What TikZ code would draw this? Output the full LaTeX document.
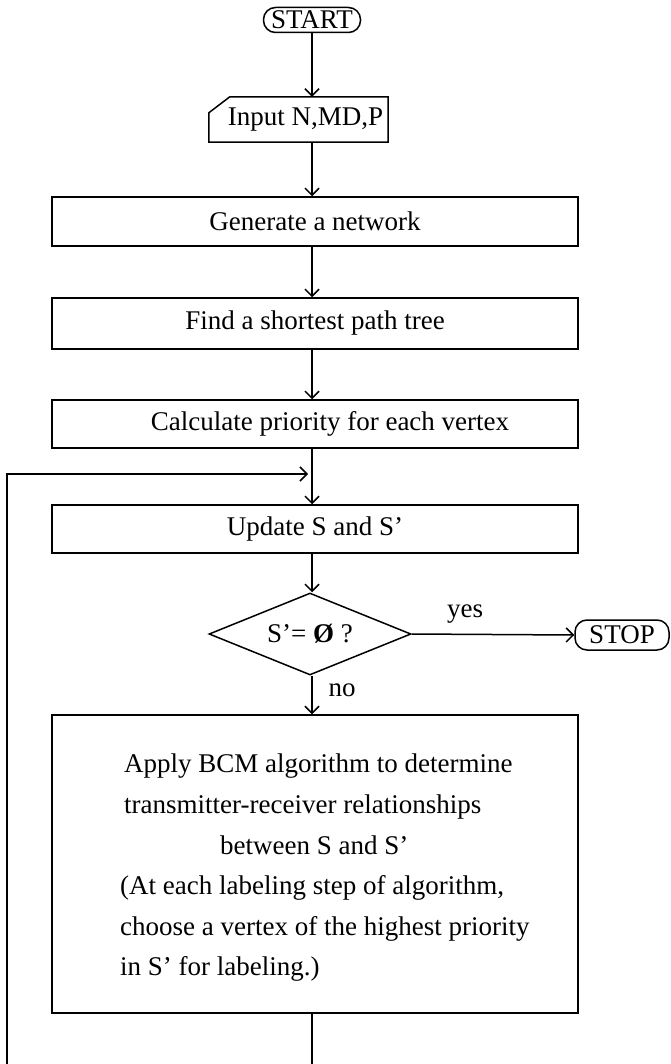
\documentclass[tikz,border=0pt]{standalone}
\usepackage{fontspec}
\setmainfont{Liberation Serif}
\usetikzlibrary{arrows.meta,shapes.geometric}
\begin{document}
\begin{tikzpicture}[x=1pt,y=-1pt,
  every node/.style={font=\fontsize{27}{40.6}\selectfont},
  line/.style={line width=1.5pt},
  arr/.style={line width=1.5pt, -{Straight Barb[length=7pt,width=14pt,line width=1.5pt]}},
  box/.style={draw, line width=1.5pt, minimum width=526pt, inner sep=0pt},
  term/.style={draw, line width=1.5pt, rounded corners=12pt, inner sep=0pt},
]
\useasboundingbox (0,0) rectangle (671,1064);
% terminals and boxes
\node[term, minimum width=97pt, minimum height=25pt] (start) at (312,20) {START};
\node[minimum width=179pt, minimum height=45pt, inner sep=0pt] (input) at (298.5,119.5) {\hspace*{14pt}Input N,MD,P};
\draw[line] ([xshift=21pt]input.north west) -- (input.north east) -- (input.south east)
  -- (input.south west) -- ([yshift=-16pt]input.north west) -- cycle;
\node[box, minimum height=49pt] (gen) at (315,221.5) {Generate a network};
\node[box, minimum height=51pt] (find) at (315,323.5) {Find a shortest path tree};
\node[box, minimum height=48pt] (calc) at (315,424) {\hspace*{30pt}Calculate priority for each vertex};
\node[box, minimum height=48pt] (upd) at (315,529) {Update S and S’};
\node[draw, diamond, line width=1.5pt, minimum width=202pt, minimum height=82pt, inner sep=0pt, shape aspect=2.46] (dec) at (310,634) {S’= \textbf{Ø} ?};
\node[term, minimum width=94pt, minimum height=30pt] (stop) at (622,635) {STOP};
\node (yes) at (465,614) {yes};
\node (no) at (342,690) {no};
\node[box, minimum height=298pt] (bcm) at (315,864) {};
\node[align=left, anchor=west, inner sep=0pt] (bcmtxt) at (120,868) {%
\hspace*{4pt}Apply BCM algorithm to determine\\
\hspace*{4pt}transmitter-receiver relationships\\
\hspace*{100pt}between S and S’\\
(At each labeling step of algorithm,\\
choose a vertex of the highest priority\\
in S’ for labeling.)};
% loop coordinates
\coordinate (entry) at (312,474);
\coordinate (bot) at (312,1064);
\coordinate (botl) at (7,1064);
\coordinate (topl) at (7,474);
% connectors
\draw[arr] (start) -- (start |- input.north);
\draw[arr] (start |- input.south) -- (start |- gen.north);
\draw[arr] (start |- gen.south) -- (start |- find.north);
\draw[arr] (start |- find.south) -- (start |- calc.north);
\draw[arr] (start |- calc.south) -- (start |- upd.north);
\draw[arr] (start |- upd.south) -- (start |- dec.north);
\draw[arr] (start |- dec.south) -- (start |- bcm.north);
\draw[arr] (dec.east) -- (stop.west);
\draw[line] (start |- bcm.south) -- (bot);
\draw[arr] (botl) -- (topl) -- ([xshift=-4pt]entry);
\end{tikzpicture}
\end{document}
